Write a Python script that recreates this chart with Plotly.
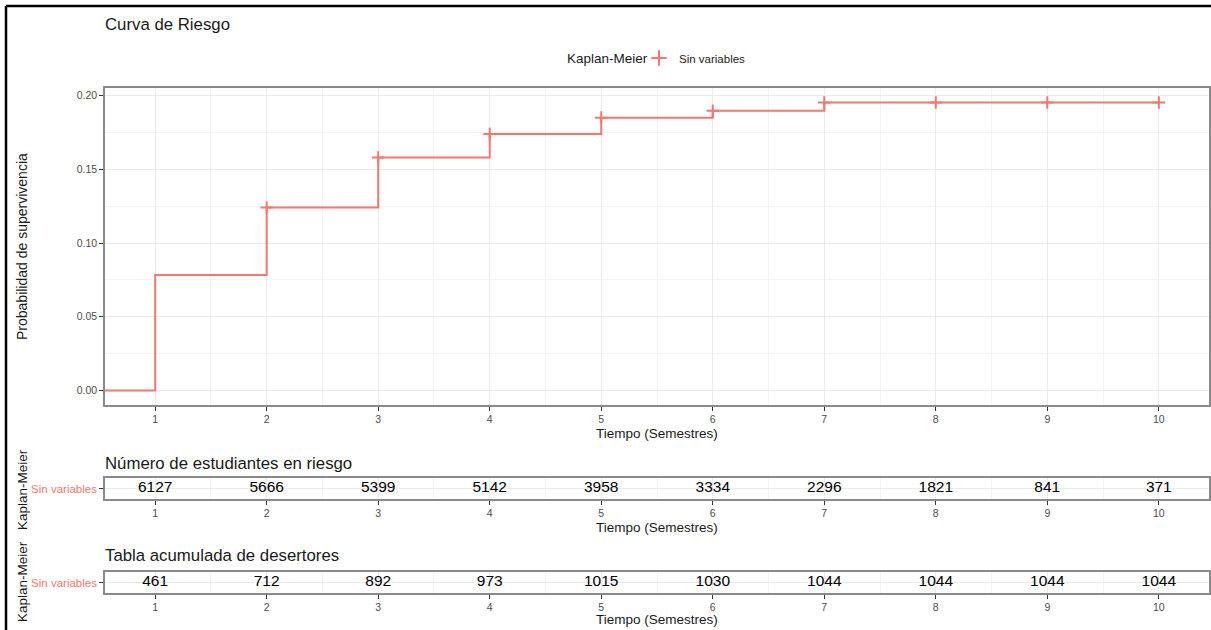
import plotly.graph_objects as go

# ---- data ----
times = [0, 1, 2, 3, 4, 5, 6, 7, 8, 9, 10]
risk_curve = [0, 0.0784, 0.1241, 0.158, 0.174, 0.185, 0.1896, 0.1953, 0.1953, 0.1953, 0.1953]
censor_times = [2, 3, 4, 5, 6, 7, 8, 9, 10]
censor_vals = [0.1241, 0.158, 0.174, 0.185, 0.1896, 0.1953, 0.1953, 0.1953, 0.1953]
table_times = [1, 2, 3, 4, 5, 6, 7, 8, 9, 10]
at_risk = [6127, 5666, 5399, 5142, 3958, 3334, 2296, 1821, 841, 371]
cum_dropouts = [461, 712, 892, 973, 1015, 1030, 1044, 1044, 1044, 1044]
group = "Sin variables"
legend_title = "Kaplan-Meier"

W, H = 1211, 630
RED = "#F8766D"
FONT = "Liberation Sans, Arial, sans-serif"

def px_x(p):
    return p / W

def px_y(p):
    return 1 - p / H

fig = go.Figure()

# main curve
fig.add_trace(go.Scatter(x=times, y=risk_curve, mode="lines", line=dict(color=RED, width=2, shape="hv"),
                         showlegend=False, xaxis="x", yaxis="y", hoverinfo="skip"))
fig.add_trace(go.Scatter(x=censor_times, y=censor_vals, mode="markers",
                         marker=dict(symbol="cross-thin", size=9, line=dict(color=RED, width=2), color=RED),
                         showlegend=False, xaxis="x", yaxis="y"))
# legend entry
fig.add_trace(go.Scatter(x=[None], y=[None], mode="markers", name=group,
                         marker=dict(symbol="cross-thin", size=11, line=dict(color=RED, width=2), color=RED),
                         xaxis="x", yaxis="y"))

# tables
fig.add_trace(go.Scatter(x=table_times, y=[group] * len(table_times), mode="text",
                         text=[str(v) for v in at_risk], textfont=dict(size=15.5, color="black", family=FONT),
                         showlegend=False, xaxis="x2", yaxis="y2"))
fig.add_trace(go.Scatter(x=table_times, y=[group] * len(table_times), mode="text",
                         text=[str(v) for v in cum_dropouts], textfont=dict(size=15.5, color="black", family=FONT),
                         showlegend=False, xaxis="x3", yaxis="y3"))

xdom = [px_x(105), px_x(1209)]
xr = [0.55, 10.45]
grid_major = "#EBEBEB"
grid_minor = "#F4F4F4"
border = "#8A8A8A"

def xaxis_cfg(anchor):
    return dict(domain=xdom, range=xr, anchor=anchor, tick0=1, dtick=1,
                showgrid=True, gridcolor=grid_major, gridwidth=1,
                minor=dict(dtick=0.5, tick0=0.5, showgrid=True, gridcolor=grid_minor, gridwidth=1, ticks=""),
                ticks="outside", ticklen=4, tickcolor="#333333", tickwidth=1,
                tickfont=dict(size=10.5, color="#4D4D4D", family=FONT),
                showline=True, linecolor=border, linewidth=1.5, mirror=True, zeroline=False)

fig.update_layout(
    width=W, height=H, margin=dict(l=0, r=0, t=0, b=0),
    paper_bgcolor="white", plot_bgcolor="white",
    font=dict(family=FONT),
    xaxis=xaxis_cfg("y"),
    yaxis=dict(domain=[px_y(405), px_y(88)], range=[-0.0098, 0.2051], tick0=0, dtick=0.05,
               tickformat=".2f", showgrid=True, gridcolor=grid_major,
               minor=dict(dtick=0.025, tick0=0.025, showgrid=True, gridcolor=grid_minor, ticks=""),
               ticks="outside", ticklen=4, tickcolor="#333333",
               tickfont=dict(size=10.5, color="#4D4D4D", family=FONT),
               showline=True, linecolor=border, linewidth=1.5, mirror=True, zeroline=False, anchor="x"),
    xaxis2=xaxis_cfg("y2"),
    yaxis2=dict(domain=[px_y(499), px_y(478)], anchor="x2", type="category",
                showgrid=True, gridcolor=grid_major, ticks="outside", ticklen=4, tickcolor="#333333",
                tickfont=dict(size=11.5, color=RED, family=FONT),
                showline=True, linecolor=border, linewidth=1.5, mirror=True, zeroline=False),
    xaxis3=xaxis_cfg("y3"),
    yaxis3=dict(domain=[px_y(593), px_y(572)], anchor="x3", type="category",
                showgrid=True, gridcolor=grid_major, ticks="outside", ticklen=4, tickcolor="#333333",
                tickfont=dict(size=11.5, color=RED, family=FONT),
                showline=True, linecolor=border, linewidth=1.5, mirror=True, zeroline=False),
    legend=dict(orientation="h", x=px_x(639), y=px_y(58), xanchor="left", yanchor="middle",
                font=dict(size=11.5, color="#1A1A1A", family=FONT), bgcolor="rgba(0,0,0,0)",
                itemwidth=30, tracegroupgap=0),
)

ann = []
def add_text(text, x, y, size, color="#1A1A1A", xanchor="left", angle=0):
    ann.append(dict(text=text, x=px_x(x), y=px_y(y), xref="paper", yref="paper", showarrow=False,
                    xanchor=xanchor, yanchor="middle", textangle=angle,
                    font=dict(size=size, color=color, family=FONT)))

add_text("Curva de Riesgo", 103, 25, 16.8)
add_text(legend_title, 565, 58, 13.5)
add_text("Probabilidad de supervivencia", 22, 247, 14, angle=-90, xanchor="center")
add_text("Tiempo (Semestres)", 657, 433, 13.5, xanchor="center")
add_text("Número de estudiantes en riesgo", 103, 463, 16.8)
add_text("Kaplan-Meier", 22, 490, 13.5, angle=-90, xanchor="center")
add_text("Tiempo (Semestres)", 657, 527, 13.5, xanchor="center")
add_text("Tabla acumulada de desertores", 103, 555, 16.8)
add_text("Kaplan-Meier", 22, 582, 13.5, angle=-90, xanchor="center")
add_text("Tiempo (Semestres)", 657, 619, 13.5, xanchor="center")
fig.update_layout(annotations=ann)

# outer frame (top and left edges visible)
fig.add_shape(type="line", xref="paper", yref="paper", x0=px_x(6), x1=1, y0=px_y(6), y1=px_y(6),
              line=dict(color="black", width=2.5))
fig.add_shape(type="line", xref="paper", yref="paper", x0=px_x(6), x1=px_x(6), y0=0, y1=px_y(6),
              line=dict(color="black", width=2.5))

fig.write_html("out.html", config={"displayModeBar": False},
               post_script="document.body.style.margin='0';document.body.style.overflow='hidden';"
                           "document.documentElement.style.overflow='hidden';")
